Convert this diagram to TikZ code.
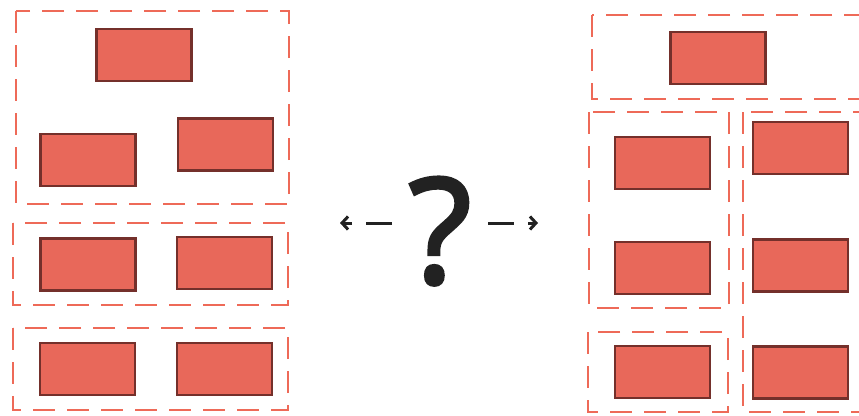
\documentclass[tikz,border=0pt]{standalone}
\usepackage{fontspec}
\setmainfont{Open Sans}
\newfontfamily\qfont[FakeBold=2.5]{Open Sans}
\usepackage{tikz}
\usetikzlibrary{arrows.meta}

\definecolor{blockfill}{HTML}{E8685A}
\definecolor{blockline}{HTML}{74302B}
\definecolor{groupline}{HTML}{EE6A58}
\definecolor{ink}{HTML}{222222}

\tikzset{
    block/.style={draw=blockline, fill=blockfill, line width=2.6pt, inner sep=0pt,
        minimum width=95pt, minimum height=52pt},
    group/.style={draw=groupline, line width=2.4pt, dash pattern=on 22pt off 12pt},
    guess/.style={draw=ink, line width=3pt, dash pattern=on 26pt off 14pt,
        -{Straight Barb[length=6pt, width=13pt, line width=3pt]}}
}

\begin{document}
\begin{tikzpicture}[x=1pt, y=-1pt]
    \clip (0,0) rectangle (859,415);
    \useasboundingbox (0,0) rectangle (859,415);

    % left layout
    \draw[group] (16,11) rectangle (289,204);
    \draw[group] (13,223) rectangle (288,305);
    \draw[group] (13,328) rectangle (288,410);

    \node [block] (l1) at (144,55) {};
    \node [block] (l2) at (88,160) {};
    \node [block] (l3) at (225.5,144.5) {};
    \node [block] (l4) at (88,264.5) {};
    \node [block] (l5) at (224.5,263) {};
    \node [block] (l6) at (87.5,369) {};
    \node [block] (l7) at (224.5,369) {};

    % right layout
    \draw[group] (592,15) rectangle (866,99);
    \draw[group] (589,112) rectangle (729,308);
    \draw[group] (743,112) rectangle (866,412);
    \draw[group] (588,332) rectangle (728,412);

    \node [block] (r1) at (718,58) {};
    \node [block] (r2) at (662.5,163) {};
    \node [block] (r3) at (800.5,148) {};
    \node [block] (r4) at (662.5,268) {};
    \node [block] (r5) at (800.5,265.5) {};
    \node [block] (r6) at (662.5,372) {};
    \node [block] (r7) at (800.5,372.5) {};

    % question in the middle
    \node [anchor=base, text=ink, inner sep=0pt, font=\qfont\fontsize{146}{146}\selectfont] (q) at (440,283) {?};
    \coordinate (qleft) at (392,223);
    \coordinate (qright) at (488,223);
    \coordinate (toleft) at (340,223);
    \coordinate (toright) at (538,223);
    \draw[guess] (qleft) -- (toleft);
    \draw[guess] (qright) -- (toright);
\end{tikzpicture}
\end{document}
